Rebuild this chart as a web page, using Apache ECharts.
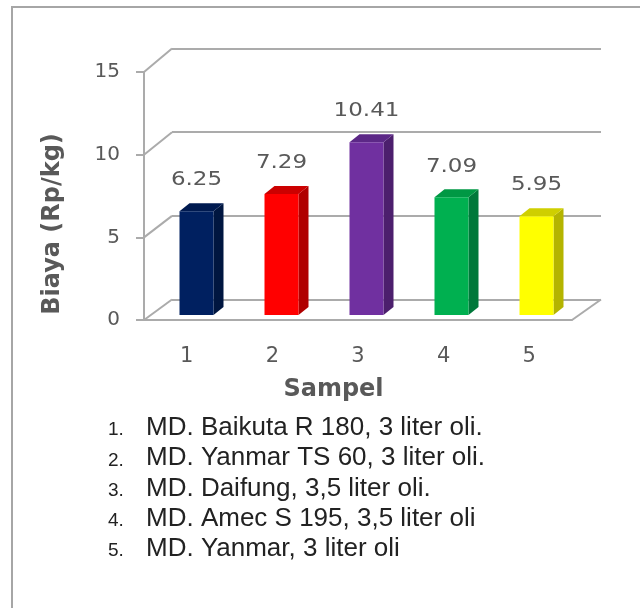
<!DOCTYPE html>
<html>
<head>
<meta charset="utf-8">
<script src="https://cdn.jsdelivr.net/npm/echarts@6/dist/echarts.min.js"></script>
<style>
  html, body { margin: 0; padding: 0; background: #ffffff; }
  #chart { width: 640px; height: 608px; }
</style>
</head>
<body>
<div id="chart"></div>
<script>
// Sample numbers and the cost per kg measured for each engine
const samples = ['1', '2', '3', '4', '5'];
const costs = [6.25, 7.29, 10.41, 7.09, 5.95];
const yTicks = [0, 5, 10, 15];
const sampleNotes = [
  'MD. Baikuta R 180, 3 liter oli.',
  'MD. Yanmar TS 60, 3 liter oli.',
  'MD. Daifung, 3,5 liter oli.',
  'MD. Amec S 195, 3,5 liter oli',
  'MD. Yanmar, 3 liter oli'
];

// Face colours of each 3D column: front, side, top
const frontColors = ['#002060', '#ff0000', '#7030a0', '#00b050', '#ffff00'];
const sideColors  = ['#001640', '#b00000', '#4c1f6d', '#00783a', '#b4b400'];
const topColors   = ['#001a50', '#cc0000', '#5c2887', '#009844', '#cfcf00'];

const GRID_COLOR = '#ababab';
const TEXT_COLOR = '#595959';
const FONT = 'DejaVu Sans';

// Layout of the three planes of the pseudo-3D box
const frontPlane = { left: 144, top: 72, width: 428, height: 248 };
const barPlane   = { left: 154, top: 66, width: 425, height: 249 };
const backPlane  = { left: 172, top: 48.5, width: 429, height: 251 };
const DEPTH_X = 10, DEPTH_Y = 8, BAR_W = 34;

const chart = echarts.init(document.getElementById('chart'), null, { renderer: 'canvas' });

function renderColumn(params, api) {
  const i = api.value(0);
  const v = api.value(1);
  const base = api.coord([i, 0]);
  const top = api.coord([i, v]);
  const x0 = base[0] - BAR_W / 2, x1 = base[0] + BAR_W / 2;
  const yb = base[1], yt = top[1];
  return {
    type: 'group',
    children: [
      { type: 'polygon', shape: { points: [[x1, yb], [x1 + DEPTH_X, yb - DEPTH_Y], [x1 + DEPTH_X, yt - DEPTH_Y], [x1, yt]] },
        style: { fill: sideColors[i] } },
      { type: 'polygon', shape: { points: [[x0, yt], [x0 + DEPTH_X, yt - DEPTH_Y], [x1 + DEPTH_X, yt - DEPTH_Y], [x1, yt]] },
        style: { fill: topColors[i] } },
      { type: 'rect', shape: { x: x0, y: yt, width: BAR_W, height: yb - yt },
        style: { fill: frontColors[i] } },
      { type: 'text', x: base[0], y: yt - 31, scaleX: 1.15,
        style: { text: v.toFixed(2), font: '20px "' + FONT + '"', fill: TEXT_COLOR, align: 'center', verticalAlign: 'middle' } }
    ]
  };
}

const option = {
  animation: false,
  backgroundColor: '#ffffff',
  grid: [
    Object.assign({ containLabel: false }, frontPlane),
    Object.assign({ containLabel: false }, barPlane),
    Object.assign({ containLabel: false }, backPlane)
  ],
  xAxis: [
    {
      gridIndex: 0, type: 'category', data: samples,
      axisLine: { show: true, lineStyle: { color: GRID_COLOR, width: 2 } },
      axisTick: { show: false },
      axisLabel: { margin: 26, color: TEXT_COLOR, fontFamily: FONT, fontSize: 21 },
      name: 'Sampel', nameLocation: 'middle', nameGap: 58,
      nameTextStyle: { color: TEXT_COLOR, fontFamily: FONT, fontSize: 24, fontWeight: 'bold', padding: [0, 49, 0, 0] }
    },
    { gridIndex: 1, type: 'category', data: samples, show: false },
    { gridIndex: 2, type: 'category', data: samples, show: false }
  ],
  yAxis: [
    {
      gridIndex: 0, type: 'value', min: 0, max: 15, interval: 5,
      axisLine: { show: true, lineStyle: { color: GRID_COLOR, width: 2 } },
      axisTick: { show: true, length: 8, lineStyle: { color: GRID_COLOR, width: 2 } },
      axisLabel: { margin: 24, color: TEXT_COLOR, fontFamily: FONT, fontSize: 20 },
      splitLine: { show: false }
    },
    { gridIndex: 1, type: 'value', min: 0, max: 15, show: false },
    {
      gridIndex: 2, type: 'value', min: 0, max: 15, interval: 5,
      axisLine: { show: false }, axisTick: { show: false }, axisLabel: { show: false },
      splitLine: { show: true, lineStyle: { color: GRID_COLOR, width: 2 } }
    }
  ],
  series: [{
    type: 'custom',
    xAxisIndex: 1, yAxisIndex: 1,
    data: costs.map((v, i) => [i, v]),
    renderItem: renderColumn
  }]
};
chart.setOption(option);

// Depth edges joining the front frame to the back wall, plus the notes list
const extras = [];
yTicks.forEach(t => {
  const yF = chart.convertToPixel({ yAxisIndex: 0 }, t);
  const yB = chart.convertToPixel({ yAxisIndex: 2 }, t);
  extras.push({ type: 'line', shape: { x1: frontPlane.left, y1: yF, x2: backPlane.left, y2: yB },
    style: { stroke: GRID_COLOR, lineWidth: 2 }, z: 1 });
});
{
  const yF = chart.convertToPixel({ yAxisIndex: 0 }, 0);
  const yB = chart.convertToPixel({ yAxisIndex: 2 }, 0);
  extras.push({ type: 'line', shape: { x1: frontPlane.left + frontPlane.width, y1: yF, x2: backPlane.left + backPlane.width, y2: yB },
    style: { stroke: GRID_COLOR, lineWidth: 2 }, z: 1 });
}
// outer frame
extras.push({ type: 'rect', shape: { x: 12, y: 7, width: 700, height: 700 },
  style: { fill: 'none', stroke: '#a6a6a6', lineWidth: 2 }, z: 0 });
// y axis title
extras.push({ type: 'text', x: 52.5, y: 224, rotation: Math.PI / 2,
  style: { text: 'Biaya (Rp/kg)', font: 'bold 24px "' + FONT + '"', fill: TEXT_COLOR, align: 'center', verticalAlign: 'middle' } });
// notes under the chart
sampleNotes.forEach((note, i) => {
  const y = 428 + i * 30.3;
  extras.push({ type: 'text', x: 108, y: y + 2, style: { text: samples[i] + '.', font: '19px "Liberation Sans"', fill: '#222222', align: 'left', verticalAlign: 'middle' } });
  extras.push({ type: 'text', x: 146, y: y, style: { text: note, font: '26px "Liberation Sans"', fill: '#222222', align: 'left', verticalAlign: 'middle' } });
});
chart.setOption({ graphic: extras });
</script>
</body>
</html>
